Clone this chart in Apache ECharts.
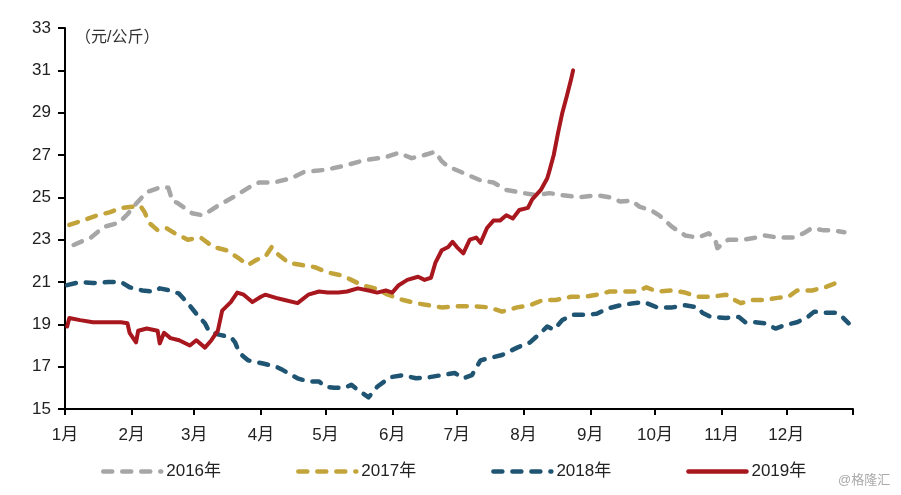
<!DOCTYPE html>
<html>
<head>
<meta charset="utf-8">
<script src="https://cdn.jsdelivr.net/npm/echarts@6/dist/echarts.min.js"></script>
<style>
html,body{margin:0;padding:0;background:#fff;}
#chart{width:901px;height:495px;}
</style>
</head>
<body>
<div id="chart"></div>
<script>
// Month tick positions (day of year, leap-year calendar) and labels
var monthStarts = [0, 31, 60, 91, 121, 152, 182, 213, 244, 274, 305, 335];
var monthLabels = ['1月','2月','3月','4月','5月','6月','7月','8月','9月','10月','11月','12月'];
var yearEnd = 366;
var seriesNames = ['2016年', '2017年', '2018年', '2019年'];

// [day of year, price 元/公斤]
var data2016 = [[4,22.75],[12,23.1],[18,23.6],[25,23.8],[29,24.2],[33,24.7],[38,25.25],[45,25.5],[48,25.45],[50,24.8],[52,24.75],[59,24.25],[64,24.15],[71,24.6],[78,25.0],[86,25.5],[90,25.7],[97,25.7],[105,25.9],[111,26.2],[121,26.3],[130,26.5],[139,26.75],[149,26.9],[155,27.1],[161,26.85],[167,27.0],[172,27.15],[175,26.7],[178,26.45],[185,26.15],[193,25.8],[199,25.7],[205,25.35],[213,25.2],[219,25.1],[225,25.2],[231,25.1],[239,25.0],[247,25.1],[253,25.0],[258,24.8],[263,24.85],[267,24.55],[272,24.4],[276,24.15],[282,23.6],[288,23.2],[294,23.1],[299,23.3],[302,23.0],[303,22.6],[308,23.0],[315,23.0],[321,23.1],[325,23.2],[331,23.1],[338,23.1],[343,23.3],[347,23.55],[352,23.45],[356,23.45],[362,23.35]];

var data2017 = [[2,23.7],[8,23.9],[15,24.15],[21,24.3],[26,24.5],[31,24.55],[35,24.6],[37,24.3],[39,23.8],[43,23.45],[47,23.55],[51,23.3],[57,23.0],[63,23.1],[69,22.65],[75,22.5],[81,22.1],[85,21.8],[89,22.05],[93,22.2],[96,22.65],[99,22.3],[104,21.9],[110,21.8],[116,21.7],[122,21.45],[129,21.3],[133,21.1],[138,20.85],[144,20.7],[150,20.4],[157,20.15],[163,20.0],[169,19.9],[175,19.8],[181,19.85],[185,19.85],[191,19.85],[197,19.8],[203,19.6],[210,19.8],[216,19.9],[222,20.15],[228,20.15],[235,20.3],[241,20.3],[247,20.4],[253,20.55],[259,20.55],[266,20.55],[270,20.75],[275,20.55],[282,20.6],[288,20.5],[294,20.3],[300,20.3],[307,20.4],[311,20.15],[314,20.0],[319,20.15],[325,20.15],[331,20.25],[336,20.3],[340,20.6],[347,20.6],[353,20.75],[358,20.95],[361,20.75]];

var data2018 = [[1,20.85],[7,21.0],[13,20.95],[20,21.0],[26,21.0],[30,20.75],[36,20.6],[41,20.55],[44,20.7],[49,20.6],[53,20.45],[57,20.0],[61,19.5],[65,19.05],[67,18.65],[72,18.5],[77,18.4],[79,18.15],[81,17.65],[85,17.3],[92,17.15],[98,17.0],[101,16.85],[108,16.45],[113,16.3],[118,16.3],[121,16.05],[125,16.0],[130,16.0],[133,16.15],[136,15.9],[141,15.55],[145,16.05],[151,16.5],[157,16.6],[163,16.45],[169,16.5],[175,16.6],[181,16.7],[185,16.45],[189,16.6],[193,17.3],[197,17.4],[203,17.55],[210,17.9],[216,18.15],[221,18.6],[224,18.9],[227,18.75],[231,19.2],[236,19.45],[242,19.45],[247,19.5],[252,19.75],[258,19.9],[264,20.0],[269,20.05],[275,19.8],[282,19.8],[288,19.9],[294,19.8],[296,19.55],[300,19.35],[307,19.3],[313,19.35],[316,19.1],[320,19.1],[325,19.05],[330,18.8],[334,18.95],[340,19.1],[345,19.35],[348,19.6],[353,19.55],[358,19.55],[361,19.35],[364,19.05]];

var data2019 = [[1,18.9],[2,19.3],[7,19.2],[13,19.1],[20,19.1],[26,19.1],[29,19.05],[30,18.6],[33,18.15],[34,18.7],[38,18.8],[43,18.7],[44,18.1],[46,18.6],[49,18.35],[53,18.25],[58,18.0],[61,18.25],[65,17.9],[68,18.25],[71,18.7],[73,19.65],[77,20.05],[80,20.5],[83,20.4],[87,20.05],[91,20.3],[93,20.4],[98,20.25],[102,20.15],[108,20.0],[113,20.4],[118,20.55],[122,20.5],[127,20.5],[131,20.55],[136,20.7],[141,20.6],[145,20.5],[149,20.6],[152,20.5],[155,20.85],[159,21.1],[164,21.25],[167,21.1],[170,21.2],[172,21.9],[175,22.5],[178,22.65],[180,22.9],[182,22.65],[185,22.35],[188,23.0],[191,23.1],[193,22.85],[196,23.55],[199,23.9],[202,23.9],[205,24.15],[208,24.0],[211,24.4],[215,24.5],[217,24.9],[221,25.35],[224,25.9],[225,26.25],[227,27.0],[229,28.05],[231,29.0],[233,29.75],[235,30.55],[236,31.0]];

var colors = ['#A6A6A6', '#C3A43A', '#1F5573', '#A8161E'];
var font = '"Liberation Sans", Arial, "Noto Sans CJK SC", sans-serif';

function dashed(name, data, color) {
  return {
    name: name, type: 'line', data: data, showSymbol: false, symbol: 'none',
    smooth: false, animation: false,
    lineStyle: { color: color, width: 4.5, type: [9, 10], cap: 'round', join: 'round' },
    itemStyle: { color: color }
  };
}

var chart = echarts.init(document.getElementById('chart'), null, { renderer: 'canvas' });
chart.setOption({
  animation: false,
  backgroundColor: '#ffffff',
  textStyle: { fontFamily: font },
  grid: { left: 65, right: 48, top: 28, bottom: 86, containLabel: false },
  xAxis: {
    type: 'value', min: 0, max: yearEnd,
    splitLine: { show: false },
    axisLine: { show: true, onZero: false, lineStyle: { color: '#000', width: 2 } },
    axisTick: { show: true, length: 6, lineStyle: { color: '#000', width: 2 },
                customValues: monthStarts.concat([yearEnd]) },
    axisLabel: {
      customValues: monthStarts,
      margin: 18, color: '#222', fontSize: 17, fontFamily: font,
      formatter: function (v) { var i = monthStarts.indexOf(v); return i >= 0 ? monthLabels[i] : ''; }
    }
  },
  yAxis: {
    type: 'value', min: 15, max: 33, interval: 2,
    splitLine: { show: false },
    axisLine: { show: true, lineStyle: { color: '#000', width: 2 } },
    axisTick: { show: true, length: 7, lineStyle: { color: '#000', width: 2 } },
    axisLabel: { margin: 14, color: '#222', fontSize: 17, fontFamily: font }
  },
  legend: {
    data: seriesNames, left: 96, top: 458, itemWidth: 58, itemHeight: 14, itemGap: 75,
    itemStyle: { color: 'rgba(0,0,0,0)', borderWidth: 0, opacity: 0 },
    lineStyle: { width: 4.5, cap: 'round' },
    textStyle: { fontSize: 17, color: '#222', fontFamily: font }
  },
  graphic: [
    { type: 'text', left: 75, top: 30, style: { text: '（元/公斤）', fontSize: 16, fill: '#333', fontFamily: font } },
    { type: 'text', left: 838, top: 474, style: { text: '@格隆汇', fontSize: 13, fill: '#aaaaaa', fontFamily: font } }
  ],
  series: [
    dashed(seriesNames[0], data2016, colors[0]),
    dashed(seriesNames[1], data2017, colors[1]),
    dashed(seriesNames[2], data2018, colors[2]),
    {
      name: seriesNames[3], type: 'line', data: data2019, showSymbol: false, symbol: 'none',
      animation: false,
      lineStyle: { color: colors[3], width: 4, join: 'round', cap: 'round' },
      itemStyle: { color: colors[3] }
    }
  ]
});
</script>
</body>
</html>
